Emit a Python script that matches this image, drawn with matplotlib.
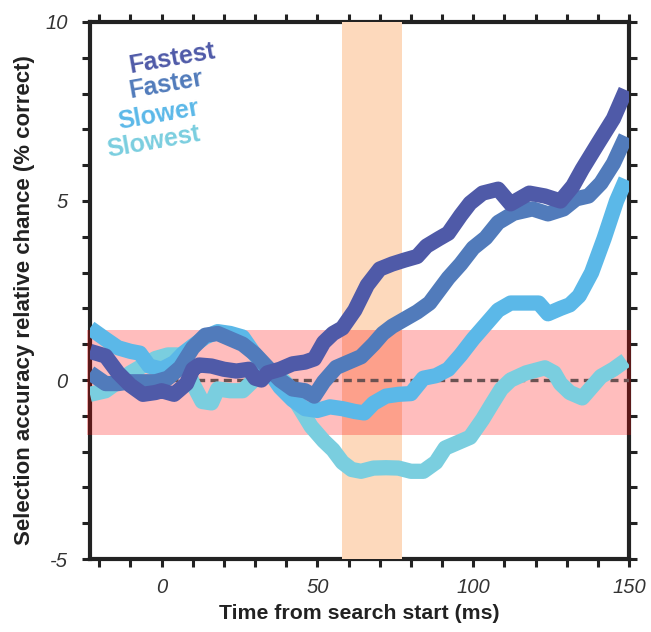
import numpy as np
import matplotlib
matplotlib.use("Agg")
import matplotlib.pyplot as plt

plt.rcParams['font.family'] = ['Liberation Sans', 'DejaVu Sans']

# data (time in ms, accuracy in % relative chance)
t_fastest = [-23, -18, -14, -10, -6, -2, 0, 2, 4, 6, 8, 10, 12, 16, 20, 24, 28, 30, 32, 34, 38, 42, 46, 49,
             52, 55, 58, 62, 66, 70, 74, 78, 82, 85, 89, 92, 96, 99, 103, 108, 112, 118, 123, 128, 132, 135,
             140, 145, 149]
v_fastest = [0.8, 0.67, 0.2, -0.15, -0.4, -0.35, -0.3, -0.35, -0.4, -0.25, -0.1, 0.3, 0.42, 0.39, 0.3, 0.25,
             0.3, 0.05, 0.0, 0.2, 0.3, 0.45, 0.5, 0.59, 1.05, 1.3, 1.45, 1.95, 2.65, 3.1, 3.24, 3.35, 3.45, 3.74,
             3.95, 4.1, 4.6, 4.94, 5.22, 5.33, 4.92, 5.22, 5.14, 5.0, 5.42, 5.89, 6.6, 7.3, 8.1]

t_faster = [-23, -18, -14, -10, -6, -2, 2, 6, 10, 14, 18, 22, 26, 30, 34, 38, 42, 46, 49, 52, 56, 60, 64,
            68, 71, 74, 78, 82, 86, 89, 92, 96, 100, 104, 108, 113, 119, 124, 129, 133, 137, 141, 145, 149]
v_faster = [0.2, -0.1, -0.1, -0.05, -0.05, -0.05, 0.05, 0.35, 0.9, 1.25, 1.3, 1.15, 1.0, 0.72, 0.35, 0.0,
            -0.25, -0.3, -0.45, -0.05, 0.35, 0.5, 0.65, 1.0, 1.3, 1.5, 1.7, 1.9, 2.15, 2.5, 2.85, 3.24, 3.69,
            3.97, 4.4, 4.66, 4.78, 4.64, 4.78, 5.06, 5.14, 5.5, 6.05, 6.8]

t_slower = [-23, -18, -14, -10, -7, -4, 0, 4, 7, 10, 14, 18, 22, 26, 30, 34, 38, 42, 46, 50, 54, 58, 62,
            65, 68, 72, 76, 80, 84, 88, 92, 96, 100, 104, 108, 112, 116, 121, 124, 128, 131, 134, 138, 142,
            146, 149]
v_slower = [1.45, 1.14, 0.9, 0.8, 0.75, 0.39, 0.3, 0.48, 0.75, 0.95, 1.2, 1.35, 1.3, 1.2, 0.7, 0.3, -0.2,
            -0.55, -0.8, -0.85, -0.75, -0.8, -0.88, -0.92, -0.65, -0.45, -0.4, -0.38, 0.05, 0.12, 0.3, 0.7,
            1.15, 1.55, 1.95, 2.15, 2.15, 2.15, 1.85, 2.0, 2.1, 2.35, 3.0, 3.95, 5.0, 5.6]

t_slowest = [-23, -18, -14, -10, -6, -2, 2, 5, 8, 10, 13, 16, 18, 22, 26, 29, 33, 37, 40, 43, 48, 52, 55,
             58, 61, 64, 68, 72, 76, 80, 84, 88, 91, 95, 99, 103, 106, 109, 112, 117, 123, 126, 128, 131,
             135, 138, 141, 145, 149]
v_slowest = [-0.4, -0.3, -0.05, 0.2, 0.4, 0.6, 0.7, 0.7, 0.4, -0.1, -0.6, -0.64, -0.25, -0.3, -0.3, -0.05,
             0.3, 0.17, -0.1, -0.59, -1.3, -1.7, -1.95, -2.3, -2.5, -2.55, -2.46, -2.45, -2.46, -2.55, -2.55,
             -2.3, -1.9, -1.75, -1.6, -1.1, -0.67, -0.25, 0.0, 0.2, 0.34, 0.2, -0.1, -0.35, -0.5, -0.2, 0.1,
             0.3, 0.55]

labels = ['Fastest', 'Faster', 'Slower', 'Slowest']
colors = ['#4f5aa8', '#517bbb', '#5bb8e8', '#7acedf']

chance_band = (-1.55, 1.4)
search_window = (58, 77)

fig = plt.figure(figsize=(6.51, 6.32), dpi=100)
ax = fig.add_axes([0.1382, 0.1155, 0.828, 0.8497])
ax.set_xlim(-23, 150)
ax.set_ylim(-5, 10)

for s in ax.spines.values():
    s.set_linewidth(3)
    s.set_color('#222222')
    s.set_zorder(1)
ax.set_axisbelow(True)

ax.axvspan(*search_window, color='#fdd9bc', lw=0, zorder=1.5)
ax.axhspan(*chance_band, xmin=-0.006, xmax=1.004, color='red', alpha=0.26, lw=0, zorder=2, clip_on=False)
ax.axhline(0, color='#6b5252', lw=2.4, dashes=(2.4, 1.6), zorder=2.2)

series = [(t_slowest, v_slowest, 3), (t_slower, v_slower, 4), (t_faster, v_faster, 5), (t_fastest, v_fastest, 6)]
cols = [colors[3], colors[2], colors[1], colors[0]]
for (tt, vv, z), c in zip(series, cols):
    ax.plot(tt, vv, color=c, lw=11, solid_joinstyle='round', solid_capstyle='butt', zorder=z)

# rotated colour legend
leg_pos = [(3.4, 8.98), (1.4, 8.25), (-0.9, 7.4), (-2.5, 6.65)]
for lab, c, (x, y) in zip(labels, colors, leg_pos):
    ax.text(x, y, lab, color=c, fontsize=18, fontweight='bold', rotation=10,
            ha='center', va='center', rotation_mode='anchor', zorder=7)

xt = list(range(-20, 151, 10))
yt = list(range(-5, 11))
ax.set_xticks(xt)
ax.set_xticklabels([str(v) if v % 50 == 0 else '' for v in xt])
ax.set_yticks(yt)
ax.set_yticklabels([str(v) if v % 5 == 0 else '' for v in yt])
ax.tick_params(direction='out', length=6, width=2.2, color='#222222', top=True, right=True,
               labelsize=14.5, labelcolor='#333333')
ax.tick_params(axis='x', pad=8)
ax.tick_params(axis='y', pad=10)
for lbl in ax.get_xticklabels() + ax.get_yticklabels():
    lbl.set_fontstyle('italic')

ax.set_xlabel('Time from search start (ms)', fontsize=15.3, fontweight='bold', color='#222222', labelpad=5)
ax.set_ylabel('Selection accuracy relative chance (% correct)', fontsize=16, fontweight='bold',
              color='#222222')
ax.yaxis.set_label_coords(-0.102, 0.483)

fig.savefig('out.png', dpi=100)
